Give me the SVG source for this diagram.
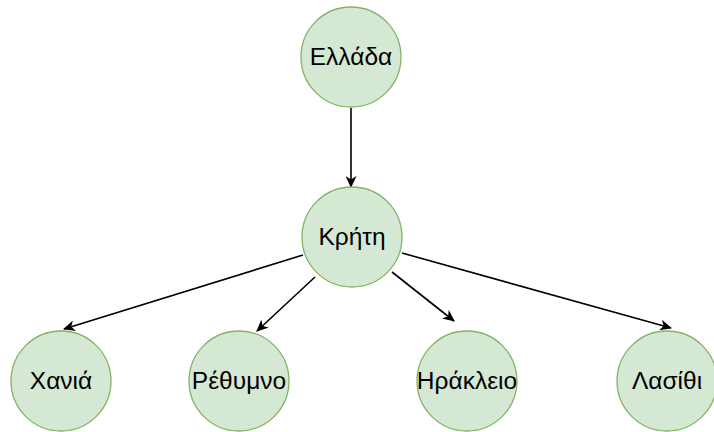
<svg xmlns="http://www.w3.org/2000/svg" width="714" height="432" viewBox="0 0 714 432">
<style>
.n{fill:#d5e8d4;stroke:#82b366;stroke-width:1.3}
.t{font-family:"Liberation Sans",Arial,sans-serif;font-size:24.5px;fill:#000;text-anchor:middle}
.e{stroke:#000;stroke-width:1.6;fill:none;marker-end:url(#a)}
</style>
<defs>
<marker id="a" viewBox="0 0 12 11" refX="11" refY="5.5" markerWidth="12" markerHeight="11" markerUnits="userSpaceOnUse" orient="auto">
<path d="M0,0 L12,5.5 L0,11 L3.5,5.5 Z" fill="#000"/>
</marker>
</defs>
<rect width="714" height="432" fill="#fff"/>
<g id="connectors">
<line class="e" x1="351" y1="108" x2="351" y2="187"/>
<line class="e" x1="303" y1="255" x2="64" y2="329"/>
<line class="e" x1="315" y1="277" x2="257" y2="331"/>
<line class="e" x1="392" y1="272" x2="454" y2="321"/>
<line class="e" x1="402" y1="253" x2="671" y2="328"/>
</g>
<g id="n-ellada"><circle class="n" cx="351" cy="57" r="50"/><text class="t" x="351" y="65">Ελλάδα</text></g>
<g id="n-kriti"><circle class="n" cx="352" cy="237" r="50"/><text class="t" x="352" y="245">Κρήτη</text></g>
<g id="n-chania"><circle class="n" cx="61" cy="381" r="50"/><text class="t" x="61" y="389">Χανιά</text></g>
<g id="n-rethymno"><circle class="n" cx="239" cy="381" r="50"/><text class="t" x="239" y="389">Ρέθυμνο</text></g>
<g id="n-irakleio"><circle class="n" cx="467" cy="381" r="50"/><text class="t" x="467" y="389">Ηράκλειο</text></g>
<g id="n-lasithi"><circle class="n" cx="667" cy="381" r="50"/><text class="t" x="667" y="389">Λασίθι</text></g>
</svg>
